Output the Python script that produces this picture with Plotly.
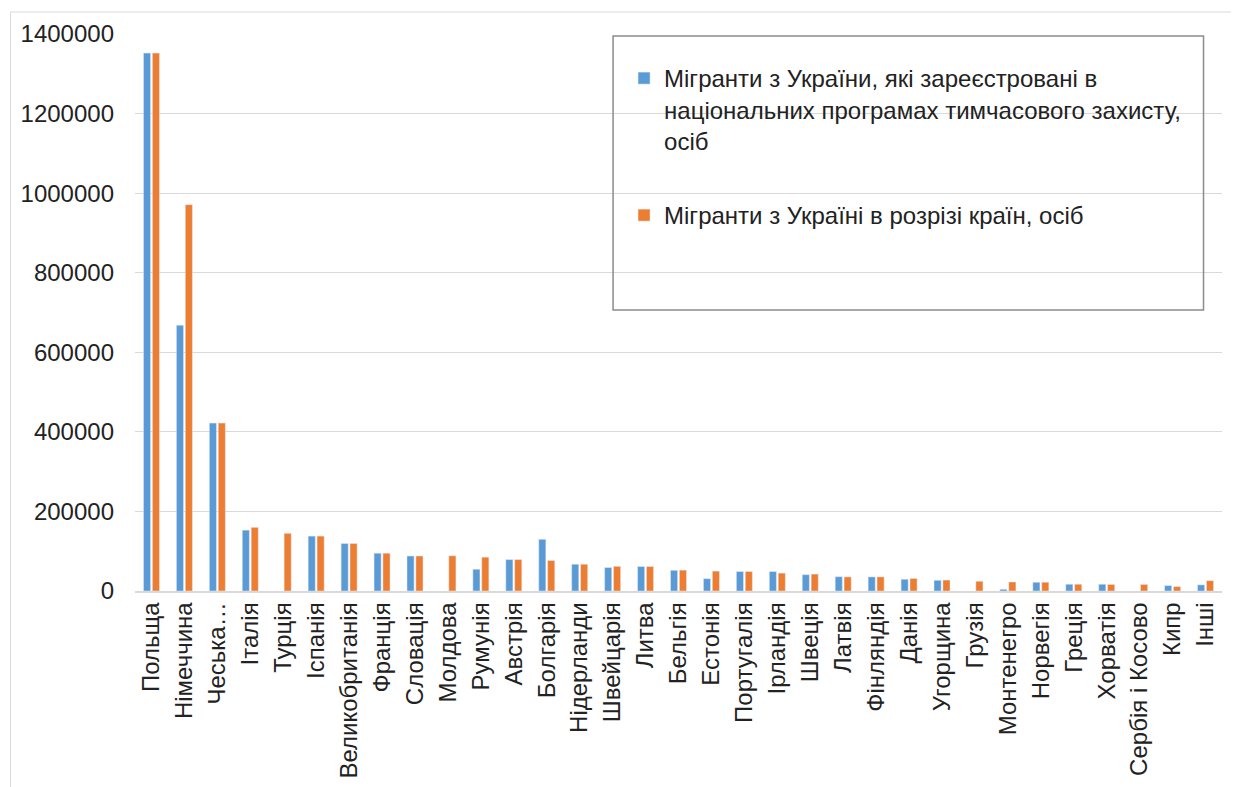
import plotly.graph_objects as go

categories = ["Польща", "Німеччина", "Чеська…", "Італія", "Турція", "Іспанія",
              "Великобританія", "Франція", "Словація", "Молдова", "Румунія",
              "Австрія", "Болгарія", "Нідерланди", "Швейцарія", "Литва",
              "Бельгія", "Естонія", "Португалія", "Ірландія", "Швеція",
              "Латвія", "Фінляндія", "Данія", "Угорщина", "Грузія",
              "Монтенегро", "Норвегія", "Греція", "Хорватія",
              "Сербія і Косово", "Кипр", "Інші"]

registered = [1352000, 668000, 422000, 153000, None, 138000,
              119500, 95000, 88000, None, 54700,
              79000, 130000, 67300, 59000, 61500,
              52000, 31000, 49000, 49000, 41000,
              36000, 35500, 29500, 27000, None,
              4300, 22000, 17000, 17000,
              None, 13600, 15500]

total = [1352000, 971000, 422000, 160000, 145000, 138000,
         119500, 95000, 88000, 88500, 85000,
         79000, 76600, 67300, 62000, 61500,
         52500, 50000, 49000, 45000, 42500,
         35500, 35500, 31500, 27500, 24500,
         22700, 22000, 17000, 16500,
         16500, 11000, 26000]

name1 = "Мігранти з України, які зареєстровані в<br>національних програмах тимчасового захисту,<br>осіб"
name2 = "Мігранти з Україні в розрізі країн, осіб"

y_ticks = [0, 200000, 400000, 600000, 800000, 1000000, 1200000, 1400000]

FONT = "Liberation Sans, Arial, sans-serif"
TICK_SIZE = 24
LEG_SIZE = 24

fig = go.Figure()
fig.add_trace(go.Bar(x=categories, y=registered, name=name1, showlegend=True,
                     marker_color="#5B9BD5", legend="legend"))
fig.add_trace(go.Bar(x=categories, y=total, name=name2, showlegend=True,
                     marker_color="#ED7D31", legend="legend2"))

W, H = 1239, 787
OX, OY = 8, 8          # page offset of the figure
L, R, T, B = 134.5, 1222.5, 34, 591   # plot area in page pixels


def px(xp):
    return (xp - L) / (R - L)


def py(yp):
    return (B - yp) / (B - T)


fig.update_layout(
    width=W, height=H,
    margin=dict(l=L - OX, r=W - (R - OX), t=T - OY, b=H - (B - OY), pad=0),
    paper_bgcolor="white", plot_bgcolor="white",
    showlegend=True,
    font=dict(family=FONT, size=TICK_SIZE, color="#222222"),
    barmode="group", bargap=0.46, bargroupgap=0.2,
    legend=dict(x=px(624), y=py(56), xanchor="left", yanchor="top",
                valign="top", bgcolor="rgba(0,0,0,0)", borderwidth=0,
                font=dict(family=FONT, size=LEG_SIZE, color="#222222")),
    legend2=dict(x=px(624), y=py(193), xanchor="left", yanchor="top",
                 valign="top", bgcolor="rgba(0,0,0,0)", borderwidth=0,
                 font=dict(family=FONT, size=LEG_SIZE, color="#222222")),
    xaxis=dict(tickangle=-90, showline=True, linecolor="#D9D9D9", linewidth=1.5,
               showgrid=False, ticks="", automargin=False,
               tickfont=dict(family=FONT, size=TICK_SIZE, color="#222222")),
    yaxis=dict(range=[0, 1400000], tickvals=y_ticks,
               ticktext=[str(v) for v in y_ticks],
               showgrid=True, gridcolor="#D9D9D9", gridwidth=1.2,
               zeroline=False, showline=False, ticks="", automargin=False,
               ticklabelstandoff=20,
               tickfont=dict(family=FONT, size=TICK_SIZE, color="#222222")),
    shapes=[
        dict(type="rect", xref="paper", yref="paper",
             x0=px(613), x1=px(1204), y0=py(310), y1=py(36),
             line=dict(color="#8C8C8C", width=1.5), fillcolor="rgba(0,0,0,0)"),
        dict(type="rect", xref="paper", yref="paper",
             x0=px(10), x1=px(1260), y0=py(820), y1=py(12),
             line=dict(color="#D9D9D9", width=1), fillcolor="rgba(0,0,0,0)"),
    ],
)

fig.write_html("out.html")
